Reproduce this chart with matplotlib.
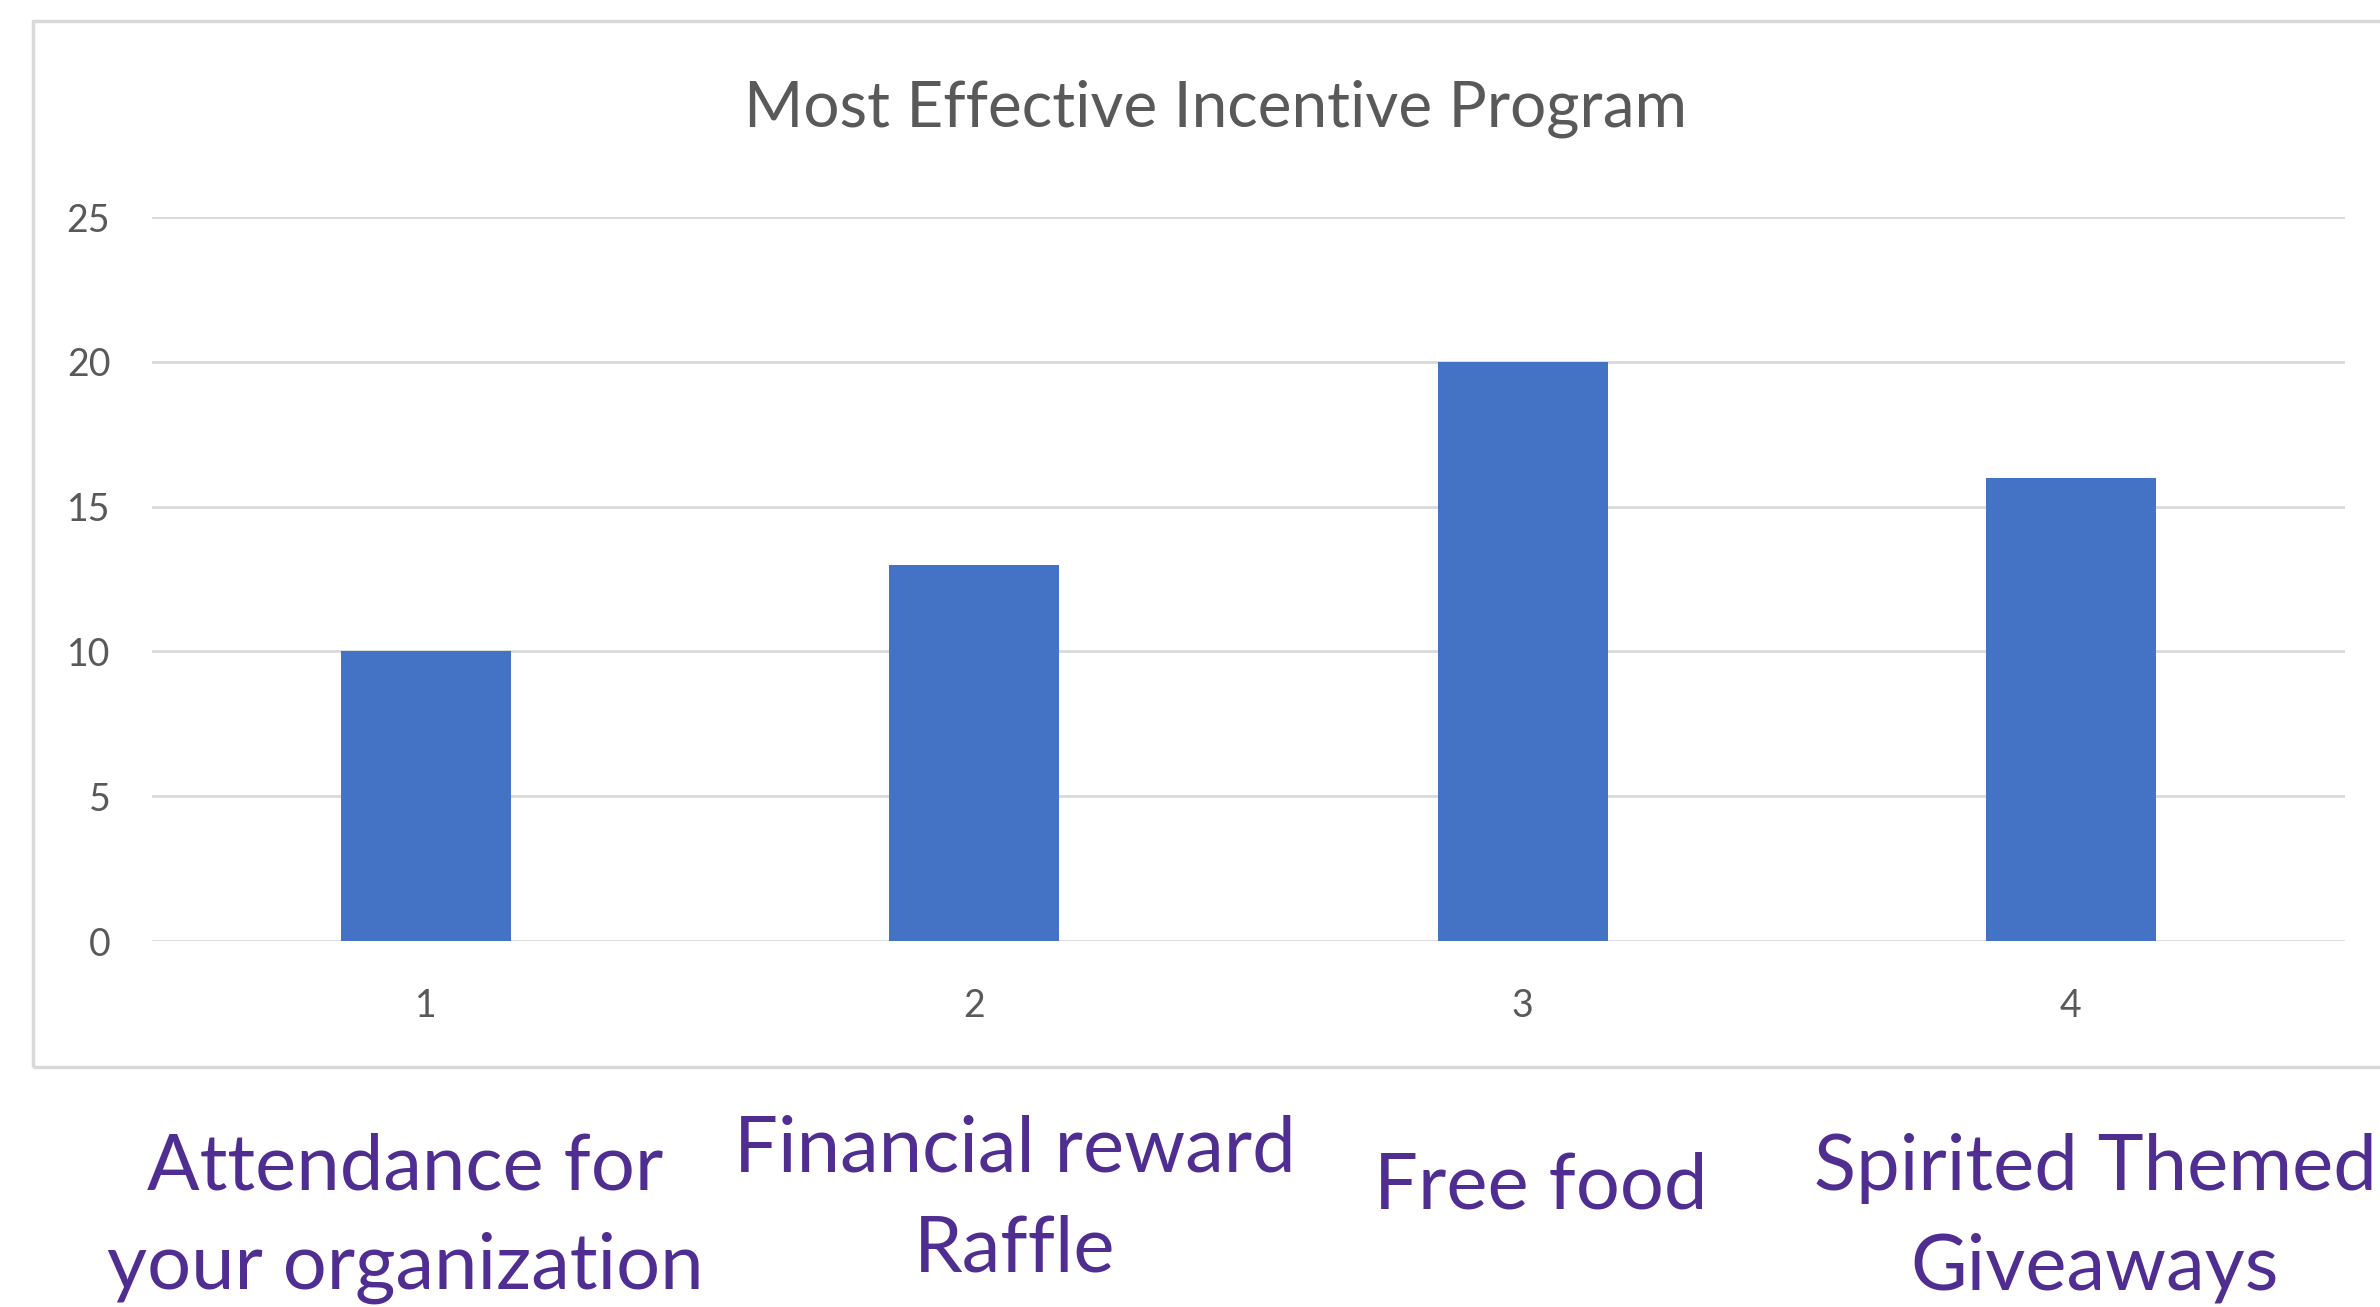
import matplotlib.pyplot as plt
from matplotlib.patches import Rectangle

plt.rcParams['font.family'] = ['Lato', 'DejaVu Sans']

# data
ticks = ['1', '2', '3', '4']
values = [10, 13, 20, 16]
names = ['Attendance for\nyour organization', 'Financial reward\nRaffle',
         'Free food', 'Spirited Themed\nGiveaways']

W, H = 2380, 1307
fig = plt.figure(figsize=(W / 100, H / 100), dpi=100)
fig.patch.set_facecolor('white')

# chart frame (right side runs off the picture)
fig.patches.append(Rectangle((33 / W, 1 - 1067 / H), 1.2, (1067 - 21) / H,
                             transform=fig.transFigure, fill=False,
                             edgecolor='#d9d9d9', lw=2.5))

ax = fig.add_axes([152 / W, 1 - 941 / H, (2345 - 152) / W, (941 - 217) / H])
x = range(len(values))
ax.bar(x, values, width=0.31, color='#4472c4', zorder=3)
ax.set_xlim(-0.5, 3.5)
ax.set_ylim(0, 25)
ax.set_yticks(range(0, 26, 5))
ax.set_xticks(list(x))
ax.set_xticklabels(ticks)
ax.grid(axis='y', color='#d9d9d9', lw=2, zorder=0)
ax.set_axisbelow(True)
for s in ax.spines.values():
    s.set_visible(False)
ax.tick_params(length=0, labelsize=27, colors='#595959', pad=30)
ax.tick_params(axis='x', pad=34)

fig.text(1216 / W, 1 - 109 / H, 'Most Effective Incentive Program',
         ha='center', va='center', fontsize=46, color='#595959')

# purple category names under the frame
name_x = [405, 1015, 1541, 2095]
name_y = [1218, 1200, 1187, 1218]
for nx, ny, t in zip(name_x, name_y, names):
    fig.text(nx / W, 1 - ny / H, t, ha='center', va='center',
             fontsize=56, color='#4f2d91', linespacing=1.5)

fig.savefig('out.png', dpi=100)
